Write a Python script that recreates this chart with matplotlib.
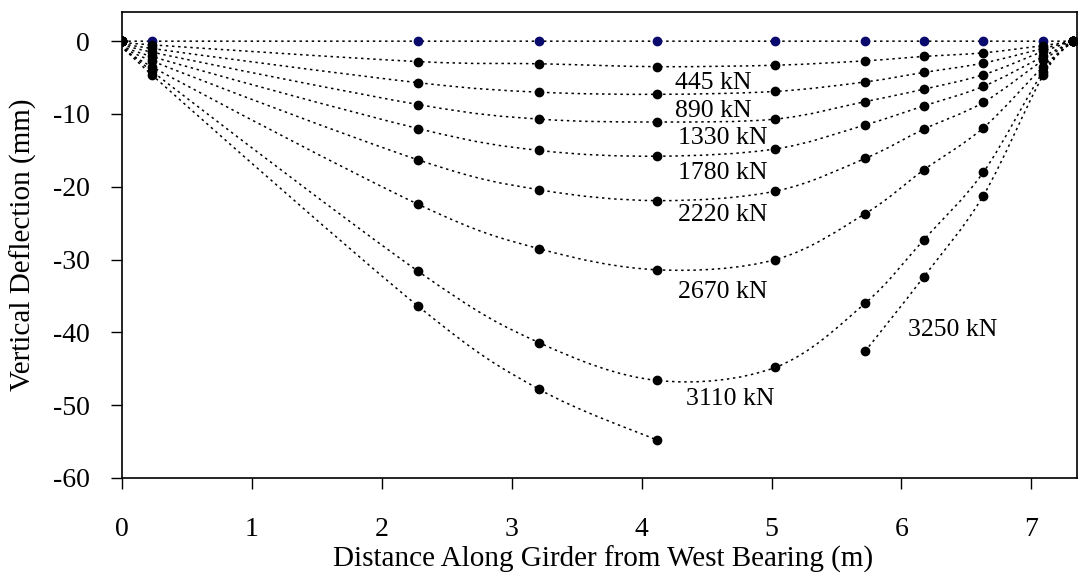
import numpy as np
import matplotlib
matplotlib.use('Agg')
from matplotlib import pyplot as plt
from matplotlib.path import Path
from matplotlib.patches import PathPatch

# gauge positions along girder (m)
positions = [0, 0.23, 2.28, 3.21, 4.12, 5.03, 5.72, 6.17, 6.63, 7.09, 7.32]

# deflections (mm) at each load level
defl_0 = [0, 0, 0, 0, 0, 0, 0, 0, 0, 0, 0]
defl_445 = [0, -0.5, -2.8, -3.1, -3.5, -3.3, -2.7, -2.1, -1.6, -0.6, 0]
defl_890 = [0, -1.0, -5.7, -7.0, -7.3, -6.9, -5.6, -4.3, -3.0, -1.0, 0]
defl_1330 = [0, -1.5, -8.7, -10.7, -11.1, -10.7, -8.3, -6.6, -4.6, -1.4, 0]
defl_1780 = [0, -2.1, -12.0, -15.0, -15.8, -14.8, -11.5, -8.9, -6.2, -2.1, 0]
defl_2220 = [0, -2.7, -16.3, -20.4, -21.9, -20.6, -16.1, -12.1, -8.4, -2.6, 0]
defl_2670 = [0, -3.5, -22.4, -28.5, -31.4, -30.0, -23.7, -17.7, -11.9, -3.5, 0]
defl_3110 = [0, -4.1, -31.6, -41.4, -46.6, -44.8, -36.0, -27.3, -18.0, -4.2, 0]
defl_3250 = [0, -4.6, -36.4, -47.8, -54.8, np.nan, -42.6, -32.4, -21.2, -4.7, 0]

series = [defl_445, defl_890, defl_1330, defl_1780, defl_2220,
          defl_2670, defl_3110, defl_3250]

# label text and where it sits
labels = ['445 kN', '890 kN', '1330 kN', '1780 kN', '2220 kN',
          '2670 kN', '3110 kN', '3250 kN']
label_x = [4.26, 4.26, 4.28, 4.28, 4.28, 4.28, 4.34, 6.05]
label_y = [-5.7, -9.6, -13.3, -18.1, -23.9, -34.4, -49.2, -39.7]


def smooth_path(xs, ys):
    # catmull-rom style bezier through the points, like a spreadsheet smoothed line
    verts, codes = [], []
    xs = np.asarray(xs, float)
    ys = np.asarray(ys, float)
    ok = ~np.isnan(ys)
    segs = []
    cur = []
    for i in range(len(xs)):
        if ok[i]:
            cur.append(i)
        else:
            if cur:
                segs.append(cur)
            cur = []
    if cur:
        segs.append(cur)
    for seg in segs:
        px = xs[seg]
        py = ys[seg]
        n = len(px)
        if n < 2:
            continue
        verts.append((px[0], py[0]))
        codes.append(Path.MOVETO)
        for i in range(n - 1):
            i0 = max(i - 1, 0)
            i3 = min(i + 2, n - 1)
            c1 = (px[i] + (px[i + 1] - px[i0]) / 6, py[i] + (py[i + 1] - py[i0]) / 6)
            c2 = (px[i + 1] - (px[i3] - px[i]) / 6, py[i + 1] - (py[i3] - py[i]) / 6)
            verts += [c1, c2, (px[i + 1], py[i + 1])]
            codes += [Path.CURVE4] * 3
    return Path(verts, codes)


plt.rcParams['font.family'] = ['Liberation Serif', 'DejaVu Serif']
plt.rcParams['axes.unicode_minus'] = False
fig = plt.figure(figsize=(10.78, 5.77), dpi=100)
ax = fig.add_axes([0.113, 0.1716, 0.886, 0.8075])

ls = (0, (1.6, 2.4))
ax.add_patch(PathPatch(smooth_path(positions, defl_0), fill=False,
                       ec='black', lw=1.1, ls=ls))
ax.plot(positions, defl_0, 'o', color='#0a0a6e', ms=6, zorder=3)
for s in series:
    ax.add_patch(PathPatch(smooth_path(positions, s), fill=False,
                           ec='black', lw=1.1, ls=ls))
    ax.plot(positions, s, 'o', color='black', ms=6, zorder=3)

for t, x, y in zip(labels, label_x, label_y):
    ax.text(x, y, t, fontsize=18.5, ha='left', va='center')

ax.set_xlim(0, 7.35)
ax.set_ylim(-60, 4)
ax.set_xticks(range(0, 8))
ax.set_yticks(range(-60, 1, 10))
ax.tick_params(direction='out', length=8, width=1, labelsize=20)
ax.tick_params(axis='x', pad=20)
ax.tick_params(axis='y', pad=15)
for sp in ax.spines.values():
    sp.set_linewidth(1.2)

ax.set_xlabel('Distance Along Girder from West Bearing (m)', fontsize=21)
ax.set_ylabel('Vertical Deflection (mm)', fontsize=21)
ax.xaxis.set_label_coords(0.504, -0.145)
ax.yaxis.set_label_coords(-0.089, 0.5)

fig.savefig('out.png', dpi=100)
